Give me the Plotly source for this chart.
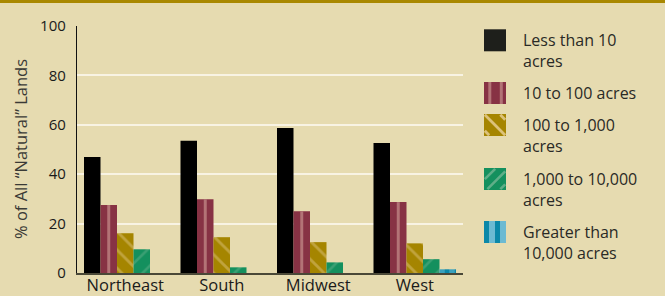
import plotly.graph_objects as go

# ---------------- data ----------------
regions = ["Northeast", "South", "Midwest", "West"]
series_names = ["Less than 10 acres", "10 to 100 acres", "100 to 1,000 acres",
                "1,000 to 10,000 acres", "Greater than 10,000 acres"]
less_than_10 = [47.0, 53.5, 58.7, 52.6]
from_10_to_100 = [27.5, 29.9, 25.0, 28.7]
from_100_to_1000 = [16.1, 14.5, 12.5, 12.0]
from_1000_to_10000 = [9.6, 2.3, 4.3, 5.6]
over_10000 = [0.0, 0.0, 0.0, 1.5]
legend_labels = ["Less than 10<br>acres", "10 to 100 acres", "100 to 1,000<br>acres",
                 "1,000 to 10,000<br>acres", "Greater than<br>10,000 acres"]
y_ticks = [0, 20, 40, 60, 80, 100]
y_title = "% of All \u201cNatural\u201d Lands"

# ---------------- style ----------------
FONT = "Open Sans"
BG = "#e6dbb0"
W_FIG, H_FIG = 665, 296
L, R, T, B = 77, 463, 26, 273
PW, PH = R - L, B - T
BARGAP = 0.145

styles = [
    dict(color="#000000", shape=""),
    dict(color="#873244", shape=""),
    dict(color="#a58500", shape="\\", fg="#dcc27a", size=13, sol=0.22),
    dict(color="#14905e", shape="/", fg="#5fae88", size=13, sol=0.2),
    dict(color="#0b88a8", shape="|", fg="#6cbad2", size=10, sol=0.55),
]
series_values = [less_than_10, from_10_to_100, from_100_to_1000, from_1000_to_10000, over_10000]


def px(x):
    return (x - L) / PW


def py(y):
    return (B - y) / PH


fig = go.Figure()
for name, vals, st in zip(series_names, series_values, styles):
    marker = dict(color=st["color"], line=dict(width=0))
    if st["shape"]:
        marker["pattern"] = dict(shape=st["shape"], fgcolor=st["fg"], bgcolor=st["color"],
                                 size=st["size"], solidity=st["sol"], fillmode="overlay")
    fig.add_trace(go.Bar(x=regions, y=vals, name=name, marker=marker, showlegend=False,
                         hoverinfo="skip"))

# centred light stripe of the "10 to 100 acres" bars (overlay axis)
bar_w = (1 - BARGAP) / 5
stripe_w = 3.0 / (PW / 4)
fig.add_trace(go.Bar(x=regions, y=from_10_to_100, xaxis="x2", width=stripe_w,
                     offset=-bar_w - stripe_w / 2, marker=dict(color="#b37376", line=dict(width=0)),
                     showlegend=False, hoverinfo="skip"))

shapes = []
# top gold border
shapes.append(dict(type="rect", xref="paper", yref="paper", x0=px(-2), x1=px(W_FIG + 2),
                   y0=py(3), y1=py(-2), fillcolor="#a98800", line=dict(width=0), layer="above"))

# legend swatches
SQ = 22
sq_x = 484
sq_tops = [29.3, 82, 114, 168, 221]
sw_colors = ["#1e1f1b", "#873244", "#a58500", "#14905e", "#0b88a8"]


def rect_px(x0, x1, y0, y1, color):
    return dict(type="rect", xref="paper", yref="paper", x0=px(x0), x1=px(x1),
                y0=py(y1), y1=py(y0), fillcolor=color, line=dict(width=0), layer="above")


def line_px(x0, y0, x1, y1, color, w):
    return dict(type="line", xref="paper", yref="paper", x0=px(x0), x1=px(x1),
                y0=py(y0), y1=py(y1), line=dict(color=color, width=w), layer="above")


for i, top in enumerate(sq_tops):
    shapes.append(rect_px(sq_x, sq_x + SQ, top, top + SQ, sw_colors[i]))
    if i == 1:
        for off in (4.3, 15.8):
            shapes.append(rect_px(sq_x + off, sq_x + off + 3, top, top + SQ, "#b37376"))
    elif i == 4:
        for off in (5, 16):
            shapes.append(rect_px(sq_x + off, sq_x + off + 6, top, top + SQ, "#6cbad2"))
    elif i == 2:
        for c in (-16, 0, 15.5):
            xa, xb = max(0, c) + 0.8, min(SQ, SQ + c) - 0.8
            if xb > xa:
                shapes.append(line_px(sq_x + xa, top + xa - c, sq_x + xb, top + xb - c, "#dcc27a", 2.8))
    elif i == 3:
        for c in (0, 12, 24.6, 37.5):
            xa, xb = max(0, c - SQ) + 0.8, min(SQ, c) - 0.8
            if xb > xa:
                shapes.append(line_px(sq_x + xa, top + c - xa, sq_x + xb, top + c - xb, "#5fae88", 2.6))

LEG_SIZE = 16
LINE_H = 1.3 * LEG_SIZE
annotations = []
for i, txt in enumerate(legend_labels):
    n = txt.count("<br>") + 1
    annotations.append(dict(text=txt, xref="paper", yref="paper", x=px(521),
                            y=py(sq_tops[i] + 11.2 + LINE_H * (n - 1) / 2), xanchor="left",
                            yanchor="middle", align="left", showarrow=False,
                            font=dict(family=FONT, size=LEG_SIZE, color="#2a2a26")))
annotations.append(dict(text=y_title, xref="paper", yref="paper", x=px(20), y=py(149),
                        xanchor="center", yanchor="middle", textangle=-90, showarrow=False,
                        font=dict(family=FONT, size=16.5, color="#3a3a36")))

fig.update_layout(
    width=W_FIG, height=H_FIG,
    margin=dict(l=L, r=W_FIG - R, t=T, b=H_FIG - B, pad=0, autoexpand=False),
    paper_bgcolor=BG, plot_bgcolor=BG,
    barmode="group", bargap=BARGAP, bargroupgap=0,
    shapes=shapes, annotations=annotations,
    font=dict(family=FONT, color="#1a1a1a"),
    hovermode=False,
    xaxis2=dict(overlaying="x", range=[-0.5, 3.5], visible=False, fixedrange=True,
                categoryorder="array", categoryarray=regions),
)
fig.update_xaxes(selector=dict(), showgrid=False)
fig.update_layout(xaxis=dict(showline=True, linecolor="rgba(35,35,25,0.8)", linewidth=2.2,
                             ticks="", tickfont=dict(size=16.5, color="#1a1a1a"), range=[-0.5, 3.5],
                             ticklabelstandoff=-4, fixedrange=True, automargin=False))
fig.update_yaxes(range=[0, 100], tickvals=y_ticks, showgrid=True, gridcolor="#f8f3e3",
                 gridwidth=1.6, showline=True, linecolor="#111111", linewidth=1.4, ticks="",
                 ticklabelstandoff=7, tickfont=dict(size=15, color="#1a1a1a"), zeroline=False,
                 fixedrange=True, automargin=False)

fig.write_html("out.html", config={"displayModeBar": False},
               post_script="document.body.style.margin='0';document.body.style.overflow='hidden';")
